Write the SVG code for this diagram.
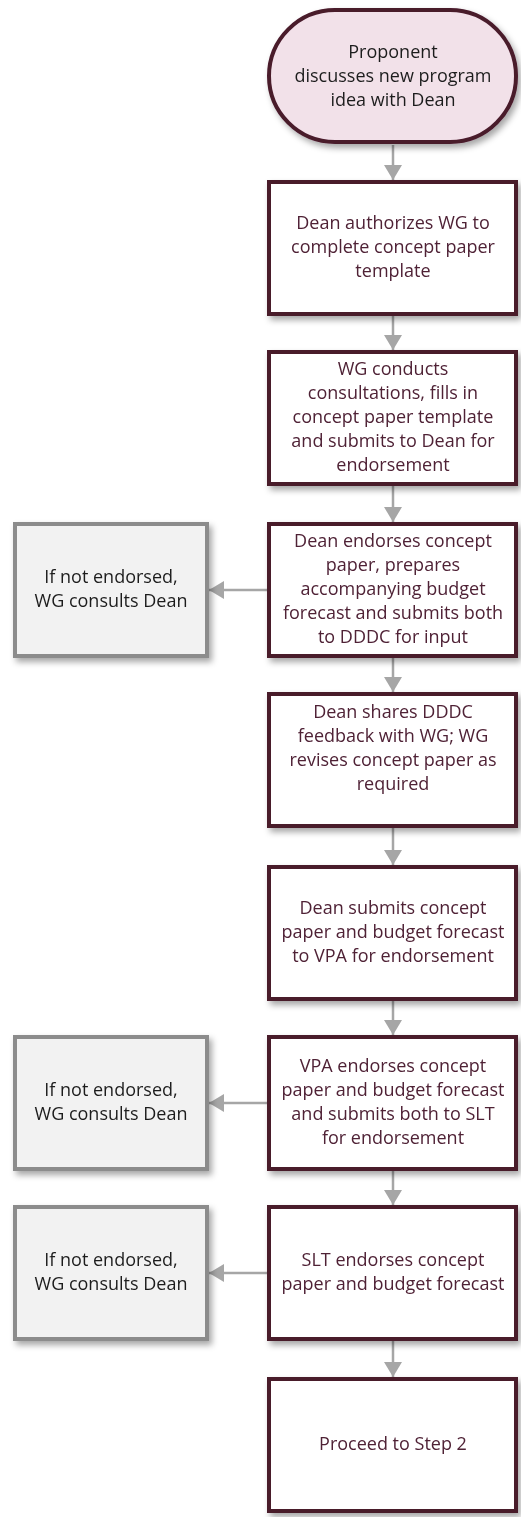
<svg xmlns="http://www.w3.org/2000/svg" width="521" height="1517" viewBox="0 0 521 1517">
<defs>
<style>
.main{fill:#ffffff;stroke:#4a1a2c;stroke-width:4}
.term{fill:#f2e1e9;stroke:#4a1a2c;stroke-width:4}
.alt{fill:#f2f2f2;stroke:#8c8c8c;stroke-width:4}
.t{font-family:"Open Sans",Lato,sans-serif;font-size:18px;text-anchor:middle}
.tm{fill:#4f2236}
.tk{fill:#1e1e1e}
.c{stroke:#a6a6a6;stroke-width:2.5;fill:none;marker-end:url(#ah)}
</style>
<filter id="sh" x="-10%" y="-10%" width="125%" height="130%">
<feDropShadow dx="3" dy="4" stdDeviation="3" flood-color="#000000" flood-opacity="0.35"/>
</filter>
<marker id="ah" viewBox="0 0 15 18" refX="15" refY="9" markerWidth="15" markerHeight="18" markerUnits="userSpaceOnUse" orient="auto">
<path d="M0,0 L15,9 L0,18 z" fill="#a6a6a6"/>
</marker>
</defs>
<g id="connectors">
<line class="c" x1="393" y1="145" x2="393" y2="180"/>
<line class="c" x1="393" y1="316" x2="393" y2="350"/>
<line class="c" x1="393" y1="486" x2="393" y2="522"/>
<line class="c" x1="393" y1="658" x2="393" y2="692"/>
<line class="c" x1="393" y1="828" x2="393" y2="865"/>
<line class="c" x1="393" y1="1001" x2="393" y2="1035"/>
<line class="c" x1="393" y1="1171" x2="393" y2="1205"/>
<line class="c" x1="393" y1="1341" x2="393" y2="1377"/>
<line class="c" x1="267" y1="590" x2="209" y2="590"/>
<line class="c" x1="267" y1="1103" x2="209" y2="1103"/>
<line class="c" x1="267" y1="1273" x2="209" y2="1273"/>
</g>
<g id="n1" filter="url(#sh)">
<rect class="term" x="269" y="10" width="247" height="132" rx="66" ry="66"/>
<text class="t tk" x="393" y="58">Proponent</text>
<text class="t tk" x="393" y="82">discusses new program</text>
<text class="t tk" x="393" y="106">idea with Dean</text>
</g>
<g id="n2" filter="url(#sh)">
<rect class="main" x="269" y="182" width="247" height="132"/>
<text class="t tm" x="393" y="229">Dean authorizes WG to</text>
<text class="t tm" x="393" y="253">complete concept paper</text>
<text class="t tm" x="393" y="277">template</text>
</g>
<g id="n3" filter="url(#sh)">
<rect class="main" x="269" y="352" width="247" height="132"/>
<text class="t tm" x="393" y="375">WG conducts</text>
<text class="t tm" x="393" y="399">consultations, fills in</text>
<text class="t tm" x="393" y="423">concept paper template</text>
<text class="t tm" x="393" y="447">and submits to Dean for</text>
<text class="t tm" x="393" y="471">endorsement</text>
</g>
<g id="n4" filter="url(#sh)">
<rect class="main" x="269" y="524" width="247" height="132"/>
<text class="t tm" x="393" y="547">Dean endorses concept</text>
<text class="t tm" x="393" y="571">paper, prepares</text>
<text class="t tm" x="393" y="595">accompanying budget</text>
<text class="t tm" x="393" y="619">forecast and submits both</text>
<text class="t tm" x="393" y="643">to DDDC for input</text>
</g>
<g id="n4alt" filter="url(#sh)">
<rect class="alt" x="15" y="524" width="192" height="132"/>
<text class="t tk" x="111" y="583">If not endorsed,</text>
<text class="t tk" x="111" y="607">WG consults Dean</text>
</g>
<g id="n5" filter="url(#sh)">
<rect class="main" x="269" y="694" width="247" height="132"/>
<text class="t tm" x="393" y="718">Dean shares DDDC</text>
<text class="t tm" x="393" y="742">feedback with WG; WG</text>
<text class="t tm" x="393" y="766">revises concept paper as</text>
<text class="t tm" x="393" y="790">required</text>
</g>
<g id="n6" filter="url(#sh)">
<rect class="main" x="269" y="867" width="247" height="132"/>
<text class="t tm" x="393" y="914">Dean submits concept</text>
<text class="t tm" x="393" y="938">paper and budget forecast</text>
<text class="t tm" x="393" y="962">to VPA for endorsement</text>
</g>
<g id="n7" filter="url(#sh)">
<rect class="main" x="269" y="1037" width="247" height="132"/>
<text class="t tm" x="393" y="1072">VPA endorses concept</text>
<text class="t tm" x="393" y="1096">paper and budget forecast</text>
<text class="t tm" x="393" y="1120">and submits both to SLT</text>
<text class="t tm" x="393" y="1144">for endorsement</text>
</g>
<g id="n7alt" filter="url(#sh)">
<rect class="alt" x="15" y="1037" width="192" height="132"/>
<text class="t tk" x="111" y="1096">If not endorsed,</text>
<text class="t tk" x="111" y="1120">WG consults Dean</text>
</g>
<g id="n8" filter="url(#sh)">
<rect class="main" x="269" y="1207" width="247" height="132"/>
<text class="t tm" x="393" y="1266">SLT endorses concept</text>
<text class="t tm" x="393" y="1290">paper and budget forecast</text>
</g>
<g id="n8alt" filter="url(#sh)">
<rect class="alt" x="15" y="1207" width="192" height="132"/>
<text class="t tk" x="111" y="1266">If not endorsed,</text>
<text class="t tk" x="111" y="1290">WG consults Dean</text>
</g>
<g id="n9" filter="url(#sh)">
<rect class="main" x="269" y="1379" width="247" height="132"/>
<text class="t tm" x="393" y="1450">Proceed to Step 2</text>
</g>
</svg>
